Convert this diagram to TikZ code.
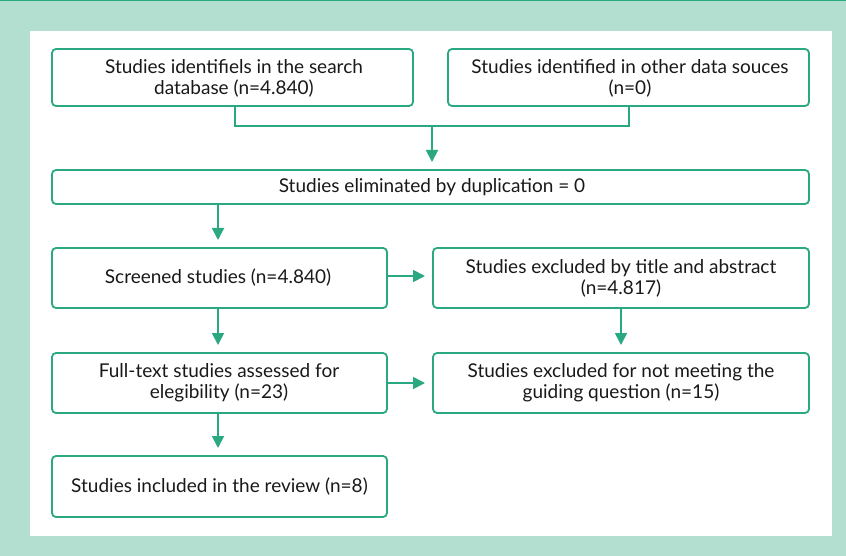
\documentclass[tikz,border=0pt]{standalone}
\usepackage{fontspec}
\setmainfont{Lato}
\usetikzlibrary{arrows.meta}
\definecolor{frame}{HTML}{B3DFD0}
\definecolor{teal}{HTML}{2AA882}
\tikzset{
  px/.style={x=1pt,y=-1pt},
  box/.style={draw=teal, line width=1.8pt, rounded corners=4pt, fill=white},
  lbl/.style={font=\fontsize{19}{21}\selectfont, align=center, text=black!90},
  conn/.style={draw=teal, line width=1.8pt},
  arr/.style={conn, -{Triangle[length=12pt,width=12pt]}, shorten >=8pt}
}
\begin{document}
\begin{tikzpicture}[px]
\useasboundingbox (0,0) rectangle (846,556);
\fill[frame] (0,0) rectangle (846,556);
\fill[teal] (0,0) rectangle (846,1.2);
\fill[white] (30,31) rectangle (832,536);
% boxes
\draw[box] (52,49) rectangle (413,106);
\node[lbl] (t1) at (234,78) {Studies identifiels in the search\\database (n=4.840)};
\draw[box] (448,49) rectangle (809,106);
\node[lbl] (t2) at (630,78) {Studies identified in other data souces\\(n=0)};
\draw[box] (52,170) rectangle (809,204);
\node[lbl] (t3) at (432,187) {Studies eliminated by duplication = 0};
\draw[box] (52,248) rectangle (387,308);
\node[lbl] (t4) at (218,278) {Screened studies (n=4.840)};
\draw[box] (433,248) rectangle (809,308);
\node[lbl] (t5) at (621,278) {Studies excluded by title and abstract\\(n=4.817)};
\draw[box] (52,353) rectangle (387,413);
\node[lbl] (t7) at (219,383) {Full-text studies assessed for\\elegibility (n=23)};
\draw[box] (433,353) rectangle (809,413);
\node[lbl] (t6) at (621,383) {Studies excluded for not meeting the\\guiding question (n=15)};
\draw[box] (52,456) rectangle (387,517);
\node[lbl] (t8) at (219.5,487) {Studies included in the review (n=8)};
% named anchor coordinates
\coordinate (b1s) at (235,106);
\coordinate (b2s) at (629,106);
\coordinate (j1) at (235,126);
\coordinate (j2) at (629,126);
\coordinate (jm) at (432,126);
\coordinate (b3n) at (432,170);
\coordinate (b3s) at (218,204);
\coordinate (b4n) at (218,248);
\coordinate (b4e) at (387,276);
\coordinate (b5w) at (433,276);
\coordinate (b5s) at (621,308);
\coordinate (b6n) at (621,353);
\coordinate (b4s) at (218,308);
\coordinate (b7n) at (218,353);
\coordinate (b7e) at (387,383);
\coordinate (b6w) at (433,383);
\coordinate (b7s) at (218,413);
\coordinate (b8n) at (218,456);
% connectors
\draw[conn] (b1s) -- (j1) -- (j2) -- (b2s);
\draw[arr] (jm) -- (b3n);
\draw[arr] (b3s) -- (b4n);
\draw[arr] (b4e) -- (b5w);
\draw[arr] (b5s) -- (b6n);
\draw[arr] (b4s) -- (b7n);
\draw[arr] (b7e) -- (b6w);
\draw[arr] (b7s) -- (b8n);
\end{tikzpicture}
\end{document}
